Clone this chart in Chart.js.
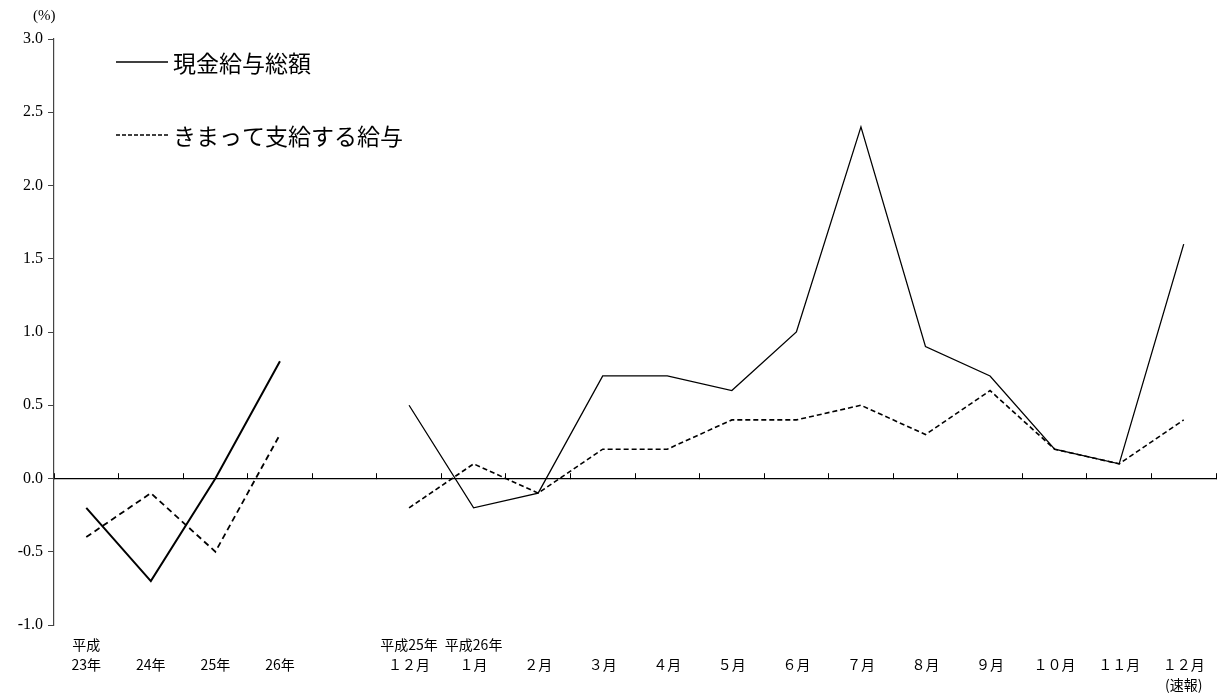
<!DOCTYPE html>
<html lang="ja">
<head>
<meta charset="utf-8">
<script src="https://cdn.jsdelivr.net/npm/chart.js@4"></script>
<style>
  html, body { margin: 0; padding: 0; background: #fff; }
  #wrap { width: 1220px; height: 695px; }
</style>
</head>
<body>
<div id="wrap"><canvas id="chart" width="1220" height="695"></canvas></div>
<script>
// categories
let yearLabels = [["平成", "23年"], ["", "24年"], ["", "25年"], ["", "26年"]];
let monthLabels = [
  ["平成25年", "１２月"], ["平成26年", "１月"], ["", "２月"], ["", "３月"], ["", "４月"],
  ["", "５月"], ["", "６月"], ["", "７月"], ["", "８月"], ["", "９月"],
  ["", "１０月"], ["", "１１月"], ["", "１２月", "(速報)"]
];

// series values (%)
let yearTotal = [-0.2, -0.7, 0.0, 0.8];
let yearRegular = [-0.4, -0.1, -0.5, 0.3];
let monthTotal = [0.5, -0.2, -0.1, 0.7, 0.7, 0.6, 1.0, 2.4, 0.9, 0.7, 0.2, 0.1, 1.6];
let monthRegular = [-0.2, 0.1, -0.1, 0.2, 0.2, 0.4, 0.4, 0.5, 0.3, 0.6, 0.2, 0.1, 0.4];

// y ticks
let yMin = -1.0, yMax = 3.0, yStep = 0.5;

let seriesNames = ["現金給与総額", "きまって支給する給与"];

// one empty slot between the yearly and monthly blocks
let labels = yearLabels.concat([""], monthLabels);
let gap = new Array(monthLabels.length + 1).fill(null);
let lead = new Array(yearLabels.length + 1).fill(null);

let serif = "'Liberation Serif', 'DejaVu Serif', 'Noto Sans CJK JP', serif";
let jp = "'Noto Sans CJK JP', 'Liberation Serif', sans-serif";

// legend and unit text drawn inside the plot
let notes = {
  id: "notes",
  afterDraw(chart) {
    let ctx = chart.ctx;
    ctx.save();
    ctx.fillStyle = "#000";
    ctx.font = "15px " + serif;
    ctx.textAlign = "left";
    ctx.textBaseline = "middle";
    ctx.fillText("(%)", 33, 16);

    let rows = [{ y: 62, dash: [] }, { y: 135, dash: [4, 2] }];
    rows.forEach((r, i) => {
      ctx.strokeStyle = "#000";
      ctx.lineWidth = 1.6;
      ctx.setLineDash(r.dash);
      ctx.beginPath();
      ctx.moveTo(116, r.y);
      ctx.lineTo(168, r.y);
      ctx.stroke();
      ctx.setLineDash([]);
      ctx.font = "23px " + jp;
      ctx.fillText(seriesNames[i], 173, r.y + 1);
    });
    ctx.restore();
  }
};

let ctx = document.getElementById("chart").getContext("2d");
let chart = new Chart(ctx, {
  type: "line",
  data: {
    labels: labels,
    datasets: [
      {
        label: seriesNames[0],
        data: yearTotal.concat(gap),
        borderColor: "#000",
        borderWidth: 2,
        pointRadius: 0,
        tension: 0,
        spanGaps: false
      },
      {
        label: seriesNames[1],
        data: yearRegular.concat(gap),
        borderColor: "#000",
        borderWidth: 1.8,
        borderDash: [6, 4],
        pointRadius: 0,
        tension: 0,
        spanGaps: false
      },
      {
        label: seriesNames[0],
        data: lead.concat(monthTotal),
        borderColor: "#000",
        borderWidth: 1.3,
        pointRadius: 0,
        tension: 0,
        spanGaps: false
      },
      {
        label: seriesNames[1],
        data: lead.concat(monthRegular),
        borderColor: "#000",
        borderWidth: 1.6,
        borderDash: [5, 3],
        pointRadius: 0,
        tension: 0,
        spanGaps: false
      }
    ]
  },
  options: {
    responsive: false,
    animation: false,
    devicePixelRatio: 1,
    layout: { padding: { top: 39, right: 4, left: 0, bottom: 0 } },
    plugins: {
      legend: { display: false },
      tooltip: { enabled: false }
    },
    scales: {
      x: {
        type: "category",
        offset: true,
        grid: { display: false, drawTicks: false },
        border: { display: false },
        ticks: {
          autoSkip: false,
          maxRotation: 0,
          padding: 10,
          color: "#000",
          font: { family: jp, size: 14, lineHeight: "20px" }
        },
        afterFit(s) { s.height = 70; }
      },
      // zero line with small upward ticks between categories
      x2: {
        type: "category",
        position: { y: 0 },
        offset: true,
        grid: {
          offset: true,
          drawOnChartArea: false,
          drawTicks: true,
          tickLength: -6,
          color: "#000",
          lineWidth: 1
        },
        border: { display: true, color: "#000", width: 1.2 },
        ticks: { display: false }
      },
      y: {
        min: yMin,
        max: yMax,
        grid: { drawOnChartArea: false, tickLength: 6, color: "#444" },
        border: { display: true, color: "#444", width: 1.2 },
        ticks: {
          stepSize: yStep,
          padding: 5,
          color: "#000",
          font: { family: serif, size: 16 },
          callback: (v) => Number(v).toFixed(1)
        },
        afterFit(s) { s.width = 54; }
      }
    }
  },
  plugins: [notes]
});
</script>
</body>
</html>
